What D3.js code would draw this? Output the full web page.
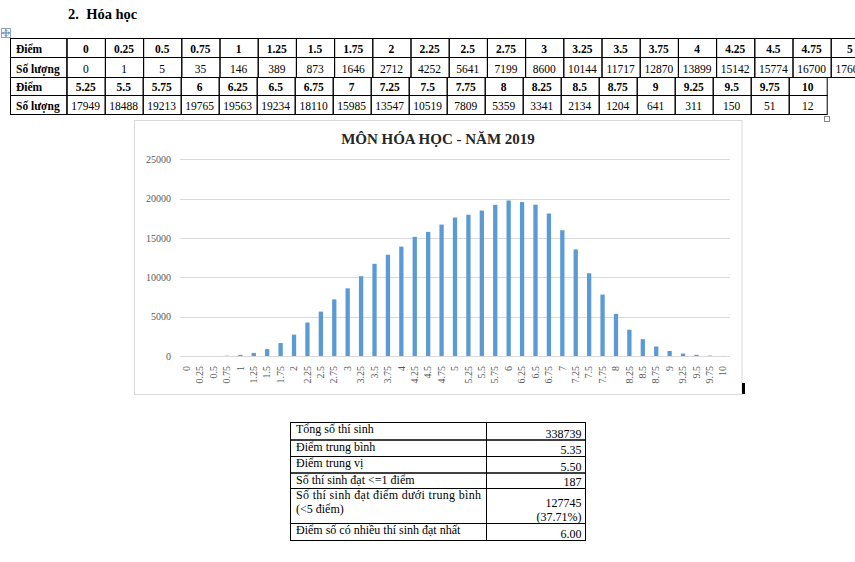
<!DOCTYPE html>
<html><head><meta charset="utf-8">
<script src="https://cdn.jsdelivr.net/npm/d3@7/dist/d3.min.js"></script>
<style>html,body{margin:0;padding:0;background:#fff;overflow:hidden}svg{display:block}</style>
</head><body><svg id="c" width="855" height="562"></svg>
<script>
const heading = "2.  Hóa học";
const rowLabels = ["Điểm", "Số lượng"];
const scores1 = ["0","0.25","0.5","0.75","1","1.25","1.5","1.75","2","2.25","2.5","2.75","3","3.25","3.5","3.75","4","4.25","4.5","4.75","5"];
const counts1 = [0,1,5,35,146,389,873,1646,2712,4252,5641,7199,8600,10144,11717,12870,13899,15142,15774,16700,17600];
const scores2 = ["5.25","5.5","5.75","6","6.25","6.5","6.75","7","7.25","7.5","7.75","8","8.25","8.5","8.75","9","9.25","9.5","9.75","10"];
const counts2 = [17949,18488,19213,19765,19563,19234,18110,15985,13547,10519,7809,5359,3341,2134,1204,641,311,150,51,12];
const chartTitle = "MÔN HÓA HỌC - NĂM 2019";
const yTicks = [0,5000,10000,15000,20000,25000];
const statLabels = ["Tổng số thí sinh","Điểm trung bình","Điểm trung vị","Số thí sinh đạt <=1 điểm","Số thí sinh đạt điểm dưới trung bình|(<5 điểm)","Điểm số có nhiều thí sinh đạt nhất"];
const statValues = ["338739","5.35","5.50","187","127745|(37.71%)","6.00"];

const svg = d3.select("#c");
const serif = "'Liberation Serif','Times New Roman',serif";

// heading
svg.append("text").attr("x",68).attr("y",18.5).attr("font-family",serif).attr("font-weight","bold")
  .attr("font-size",14.5).attr("fill","#000").attr("xml:space","preserve").text(heading);

// move handle icon
const ic = svg.append("g").attr("transform","translate(1,28)");
ic.append("rect").attr("x",0.5).attr("y",0.5).attr("width",9).attr("height",9).attr("fill","#fff").attr("stroke","#8aa6c8");
ic.append("path").attr("d","M5,1.5V8.5M1.5,5H8.5M5,1.5l-1.3,1.3M5,1.5l1.3,1.3M5,8.5l-1.3,-1.3M5,8.5l1.3,-1.3M1.5,5l1.3,-1.3M1.5,5l1.3,1.3M8.5,5l-1.3,-1.3M8.5,5l-1.3,1.3")
  .attr("stroke","#3a6ea5").attr("stroke-width",0.9).attr("fill","none");

// score table
function drawTable(scores, counts, y0, rowH, xEnd) {
  const xs = d3.scaleBand().domain(scores).range([66.7, xEnd]);
  const g = svg.append("g");
  const rows = [{vals: scores, bold: true, label: rowLabels[0]}, {vals: counts.map(String), bold: false, label: rowLabels[1]}];
  rows.forEach((r, ri) => {
    const yT = ri === 0 ? y0 : y0 + rowH[0];
    const h = rowH[ri];
    g.append("rect").attr("x",10.5).attr("y",yT+0.5).attr("width",56.2).attr("height",h)
      .attr("fill","none").attr("stroke","#000");
    g.append("text").attr("x",16).attr("y",yT+h-4.5).attr("font-family",serif).attr("font-size",11.5)
      .attr("font-weight","bold").text(r.label);
    scores.forEach((s, i) => {
      g.append("rect").attr("x",xs(s)+0.5).attr("y",yT+0.5).attr("width",xs.bandwidth()).attr("height",h)
        .attr("fill","none").attr("stroke","#000");
      g.append("text").attr("x",xs(s)+xs.bandwidth()/2).attr("y",yT+h-4.5).attr("text-anchor","middle")
        .attr("font-family",serif).attr("font-size",11.5).attr("font-weight",r.bold?"bold":"normal").text(r.vals[i]);
    });
  });
}
drawTable(scores1, counts1, 38, [19,20], 66.7 + 21*38.2);
drawTable(scores2, counts2, 77, [18,19], 826.7);

// small resize handle
svg.append("rect").attr("x",824.5).attr("y",116.5).attr("width",5).attr("height",5).attr("fill","#fff").attr("stroke","#888");

// chart
const cats = scores1.concat(scores2);
const vals = counts1.concat(counts2);
svg.append("rect").attr("x",134.5).attr("y",120.5).attr("width",607.5).attr("height",274)
  .attr("fill","#fff").attr("stroke","#d9d9d9");
svg.append("text").attr("x",438).attr("y",143.5).attr("text-anchor","middle").attr("font-family",serif)
  .attr("font-weight","bold").attr("font-size",15).attr("fill","#262626").text(chartTitle);

const x = d3.scaleBand().domain(cats).range([180,730]).paddingInner(0.68).paddingOuter(0.34);
const y = d3.scaleLinear().domain([0,25000]).range([356,159.3]);

svg.append("g").selectAll("line").data(yTicks).join("line")
  .attr("x1",180).attr("x2",730).attr("y1",d=>Math.round(y(d))+0.5).attr("y2",d=>Math.round(y(d))+0.5)
  .attr("stroke","#d9d9d9").attr("stroke-width",1);

svg.append("g").selectAll("rect").data(vals).join("rect")
  .attr("x",(d,i)=>x(cats[i])).attr("width",x.bandwidth())
  .attr("y",d=>y(d)).attr("height",d=>y(0)-y(d)).attr("fill","#5b9bd5");

const ya = svg.append("g").attr("transform","translate(180,0)")
  .call(d3.axisLeft(y).tickValues(yTicks).tickSize(0).tickPadding(9).tickFormat(d3.format("d")));
ya.select(".domain").remove();
ya.selectAll("text").attr("font-family",serif).attr("font-size",10).attr("fill","#595959");

const xa = svg.append("g").attr("transform","translate(0,356)")
  .call(d3.axisBottom(x).tickSize(0).tickPadding(0));
xa.select(".domain").remove();
xa.selectAll("text").attr("font-family",serif).attr("font-size",10).attr("fill","#595959")
  .attr("transform","rotate(-90)").attr("text-anchor","end").attr("x",-10).attr("y",0).attr("dy","0.32em");

// cursor mark
svg.append("rect").attr("x",742).attr("y",383).attr("width",3).attr("height",11).attr("fill","#000");

// stats table
const sy = [422.5,440,456.5,473,488.5,523.5,540.5];
const sx = [290,486,585];
const st = svg.append("g");
statLabels.forEach((lab, i) => {
  const t = sy[i], b = sy[i+1];
  st.append("rect").attr("x",sx[0]+0.5).attr("y",t).attr("width",sx[1]-sx[0]).attr("height",b-t).attr("fill","none").attr("stroke","#000");
  st.append("rect").attr("x",sx[1]+0.5).attr("y",t).attr("width",sx[2]-sx[1]).attr("height",b-t).attr("fill","none").attr("stroke","#000");
  const parts = lab.split("|");
  parts.forEach((p, j) => {
    const tx = st.append("text").attr("x",296).attr("y",t+10.5+j*14).attr("font-family",serif).attr("font-size",12).text(p);
    if (parts.length>1 && j===0) tx.attr("textLength",185).attr("lengthAdjust","spacing");
  });
  const vp = statValues[i].split("|");
  vp.forEach((p, j) => {
    st.append("text").attr("x",581.5).attr("y",b-2.5-(vp.length-1-j)*14.5).attr("text-anchor","end")
      .attr("font-family",serif).attr("font-size",12).text(p);
  });
});
</script></body></html>
